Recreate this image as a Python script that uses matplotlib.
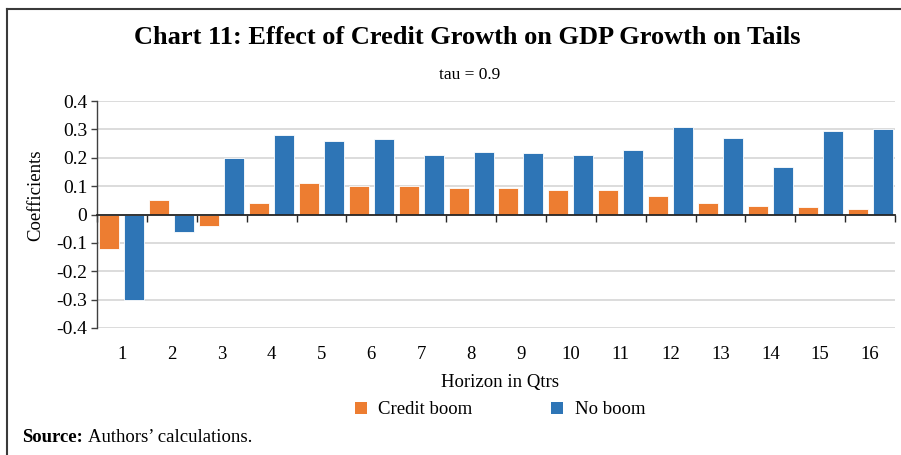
import numpy as np
import matplotlib
matplotlib.use("Agg")
import matplotlib.pyplot as plt
from matplotlib.lines import Line2D
from matplotlib.patches import Patch

# data
horizons = list(range(1, 17))
credit_boom = [-0.12, 0.05, -0.04, 0.04, 0.11, 0.10, 0.10, 0.095,
               0.092, 0.088, 0.086, 0.066, 0.04, 0.031, 0.025, 0.021]
no_boom = [-0.30, -0.06, 0.20, 0.28, 0.26, 0.265, 0.21, 0.221,
           0.215, 0.209, 0.229, 0.309, 0.269, 0.169, 0.295, 0.30]
y_ticks = [-0.4, -0.3, -0.2, -0.1, 0, 0.1, 0.2, 0.3, 0.4]
y_labels = ["-0.4", "-0.3", "-0.2", "-0.1", "0", "0.1", "0.2", "0.3", "0.4"]

orange = "#ED7D31"
blue = "#2E75B6"

plt.rcParams["font.family"] = ["Liberation Serif", "DejaVu Serif"]

fig = plt.figure(figsize=(9.01, 4.55), dpi=100)
ax = fig.add_axes([97 / 901, 1 - 328 / 455, 798 / 901, 227 / 455])

x = np.array(horizons)
ax.bar(x - 0.25, credit_boom, width=0.4, color=orange, edgecolor="white", linewidth=0.6, zorder=3)
ax.bar(x + 0.25, no_boom, width=0.4, color=blue, edgecolor="white", linewidth=0.6, zorder=3)

ax.set_xlim(0.5, 16.5)
ax.set_ylim(-0.4, 0.4)
ax.set_yticks(y_ticks)
ax.set_yticklabels(y_labels, fontsize=14)
ax.yaxis.grid(True, color="#d9d9d9", linewidth=1.3, zorder=0)
ax.set_axisbelow(True)

# zero line with tick marks at category boundaries
ax.spines["bottom"].set_position(("data", 0))
ax.spines["bottom"].set_color("#262626")
ax.spines["bottom"].set_linewidth(1.3)
ax.spines["bottom"].set_zorder(4)
ax.set_xticks(np.arange(0.5, 17, 1))
ax.set_xticklabels([])
ax.tick_params(axis="x", direction="out", length=5, width=1, color="#262626")
ax.spines["left"].set_color("#404040")
ax.spines["left"].set_linewidth(1.0)
ax.tick_params(axis="y", direction="out", length=4, width=1, color="#404040", pad=3)
ax.spines["top"].set_visible(False)
ax.spines["right"].set_visible(False)

# category labels below the plot area
sec = ax.secondary_xaxis(0)
sec.set_xticks(horizons)
sec.set_xticklabels([str(h) for h in horizons], fontsize=13.5)
sec.tick_params(length=0, pad=13)
sec.spines["bottom"].set_visible(False)

fig.text(36 / 901, 1 - 195 / 455, "Coefficients", rotation=90, fontsize=13.5,
         ha="center", va="center")

fig.text(467 / 901, 1 - 38 / 455, "Chart 11: Effect of Credit Growth on GDP Growth on Tails",
         fontsize=19, fontweight="bold", ha="center", va="center")
fig.text(470 / 901, 1 - 75 / 455, "tau = 0.9", fontsize=12.5, ha="center", va="center")
fig.text(500 / 901, 1 - 383 / 455, "Horizon in Qtrs", fontsize=13.5, ha="center", va="center")

handles = [Patch(facecolor=orange, label="Credit boom"),
           Patch(facecolor=blue, label="No boom")]
fig.legend(handles=handles, loc="center", bbox_to_anchor=(500 / 901, 1 - 410 / 455),
           ncol=2, frameon=False, fontsize=13.5, handlelength=0.65, handleheight=0.65,
           handletextpad=0.6, columnspacing=4.2)

fig.text(22 / 901, 1 - 438 / 455, "Source:", fontsize=13.5, fontweight="bold",
         ha="left", va="center")
fig.text(88 / 901, 1 - 438 / 455, "Authors\u2019 calculations.", fontsize=13.5,
         ha="left", va="center")

# outer frame (top and left edges)
fy = 1 - 9 / 455
fx = 6.5 / 901
fig.add_artist(Line2D([fx, fx], [0, fy], color="#3a3a3a", linewidth=1.5, transform=fig.transFigure))
fig.add_artist(Line2D([fx, 1], [fy, fy], color="#3a3a3a", linewidth=1.5, transform=fig.transFigure))

fig.savefig("out.png", dpi=100)
